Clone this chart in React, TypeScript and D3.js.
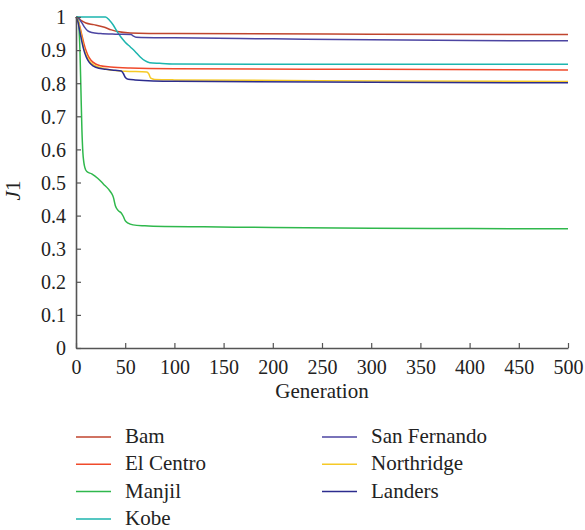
import React, { useEffect, useRef } from "react";
import * as d3 from "d3";

type Pt = [number, number];

const X_TICKS = [0, 50, 100, 150, 200, 250, 300, 350, 400, 450, 500];
const Y_TICKS = [0, 0.1, 0.2, 0.3, 0.4, 0.5, 0.6, 0.7, 0.8, 0.9, 1];
const Y_LABELS = ["0", "0.1", "0.2", "0.3", "0.4", "0.5", "0.6", "0.7", "0.8", "0.9", "1"];

const BAM: Pt[] = [[0, 1], [3, 0.995], [6, 0.988], [10, 0.982], [18, 0.977], [28, 0.97], [36, 0.961], [42, 0.956], [55, 0.952], [100, 0.95], [300, 0.948], [500, 0.947]];
const EL_CENTRO: Pt[] = [[0, 1], [2, 0.99], [4, 0.97], [6, 0.945], [8, 0.92], [10, 0.9], [12, 0.885], [15, 0.87], [20, 0.858], [25, 0.853], [35, 0.849], [55, 0.846], [100, 0.844], [300, 0.842], [500, 0.84]];
const MANJIL: Pt[] = [[0, 1], [2, 1], [3, 0.97], [4, 0.9], [5, 0.78], [6, 0.66], [7, 0.59], [8, 0.56], [9, 0.545], [11, 0.533], [16, 0.526], [22, 0.513], [28, 0.495], [33, 0.48], [36, 0.468], [38, 0.455], [40, 0.43], [43, 0.415], [46, 0.408], [48, 0.398], [50, 0.385], [53, 0.377], [58, 0.372], [70, 0.369], [90, 0.367], [130, 0.366], [200, 0.364], [300, 0.362], [400, 0.361], [500, 0.36]];
const KOBE: Pt[] = [[0, 1], [30, 1], [34, 0.99], [38, 0.975], [42, 0.955], [46, 0.938], [50, 0.924], [55, 0.91], [60, 0.896], [65, 0.88], [70, 0.868], [75, 0.862], [85, 0.86], [100, 0.858], [300, 0.857], [500, 0.857]];
const SAN_FERNANDO: Pt[] = [[0, 1], [3, 0.995], [6, 0.982], [9, 0.968], [12, 0.958], [16, 0.953], [25, 0.95], [40, 0.948], [56, 0.947], [58, 0.943], [61, 0.939], [100, 0.937], [200, 0.934], [300, 0.931], [400, 0.929], [500, 0.928]];
const NORTHRIDGE: Pt[] = [[0, 1], [2, 0.99], [4, 0.965], [6, 0.935], [8, 0.905], [10, 0.888], [12, 0.875], [15, 0.862], [20, 0.852], [30, 0.843], [40, 0.838], [50, 0.836], [72, 0.834], [74, 0.828], [76, 0.815], [80, 0.811], [100, 0.81], [300, 0.807], [500, 0.805]];
const LANDERS: Pt[] = [[0, 1], [2, 0.985], [4, 0.955], [6, 0.925], [8, 0.9], [10, 0.882], [12, 0.87], [15, 0.858], [20, 0.848], [30, 0.842], [40, 0.839], [46, 0.837], [48, 0.83], [50, 0.818], [53, 0.812], [60, 0.81], [100, 0.806], [300, 0.803], [500, 0.801]];

const NAMES = ["Bam", "El Centro", "Manjil", "Kobe", "San Fernando", "Northridge", "Landers"];
const COLORS = ["#c0452e", "#f04a2b", "#2fb84c", "#1db5ae", "#4c45a2", "#f6c926", "#2c2c8e"];
const SERIES: Pt[][] = [BAM, EL_CENTRO, MANJIL, KOBE, SAN_FERNANDO, NORTHRIDGE, LANDERS];

const W = 585;
const H = 530;
const FONT = "Liberation Serif, DejaVu Serif, serif";

export default function App() {
  const xRef = useRef<SVGGElement>(null);
  const yRef = useRef<SVGGElement>(null);

  const x = d3.scaleLinear().domain([0, 500]).range([76, 568]);
  const y = d3.scaleLinear().domain([0, 1]).range([348, 17]);

  const line = d3
    .line<Pt>()
    .x((d) => x(d[0]))
    .y((d) => y(d[1]))
    .curve(d3.curveMonotoneX);

  useEffect(() => {
    const gx = d3.select(xRef.current!);
    gx.call(
      d3
        .axisBottom(x)
        .tickValues(X_TICKS)
        .tickFormat((d) => String(d))
        .tickSizeInner(-5)
        .tickSizeOuter(0)
        .tickPadding(26)
    );
    gx.attr("font-family", null);
    gx.select(".domain").attr("stroke", "#555").attr("stroke-width", 1.6);
    gx.selectAll(".tick line").attr("stroke", "#555").attr("stroke-width", 1.2);
    gx.selectAll(".tick text")
      .attr("fill", "#222")
      .style("font-family", FONT)
      .style("font-size", "20px")
      .attr("dy", "0");

    const gy = d3.select(yRef.current!);
    gy.call(
      d3
        .axisLeft(y)
        .tickValues(Y_TICKS)
        .tickFormat((d, i) => Y_LABELS[i])
        .tickSizeInner(-5)
        .tickSizeOuter(0)
        .tickPadding(10)
    );
    gy.attr("font-family", null);
    gy.select(".domain").attr("stroke", "#555").attr("stroke-width", 1.6);
    gy.selectAll(".tick line").attr("stroke", "#555").attr("stroke-width", 1.2);
    gy.selectAll(".tick text")
      .attr("fill", "#222")
      .style("font-family", FONT)
      .style("font-size", "20px")
      .attr("dy", "0.34em");
  }, []);

  const legendCols = [
    { lx: 76, tx: 125 },
    { lx: 322, tx: 371 },
  ];

  const textStyle = { fontFamily: FONT, fontSize: "21px" };

  return (
    <svg
      width={W}
      height={H}
      style={{ position: "absolute", left: 0, top: 0, background: "#fff" }}
    >
      <g>
        {SERIES.map((s, i) => (
          <path
            key={NAMES[i]}
            d={line(s) || ""}
            fill="none"
            stroke={COLORS[i]}
            strokeWidth={1.5}
          />
        ))}
      </g>
      <g ref={xRef} transform={`translate(0,${y(0)})`} />
      <g ref={yRef} transform={`translate(${x(0)},0)`} />
      <text x={x(250)} y={398} textAnchor="middle" style={textStyle} fill="#222">
        Generation
      </text>
      <text
        transform={`translate(20,${y(0.5) + 8}) rotate(-90)`}
        textAnchor="middle"
        style={textStyle}
        fill="#222"
      >
        <tspan fontStyle="italic">J</tspan>1
      </text>
      <g>
        {NAMES.map((n, i) => {
          const col = i < 4 ? 0 : 1;
          const row = i < 4 ? i : i - 4;
          const ly = 437 + row * 27.3;
          const c = legendCols[col];
          return (
            <g key={n}>
              <line
                x1={c.lx}
                x2={c.lx + 35}
                y1={ly}
                y2={ly}
                stroke={COLORS[i]}
                strokeWidth={1.5}
              />
              <text x={c.tx} y={ly + 6} style={textStyle} fill="#222">
                {n}
              </text>
            </g>
          );
        })}
      </g>
    </svg>
  );
}
